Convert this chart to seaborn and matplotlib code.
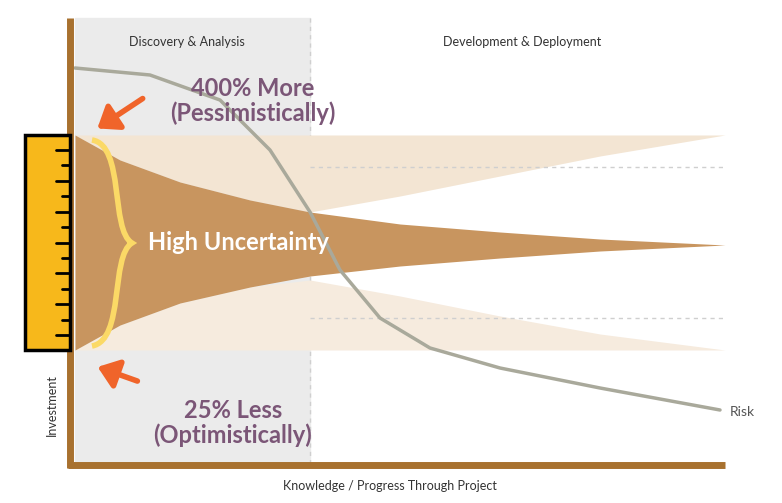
import matplotlib
matplotlib.use("Agg")
import matplotlib.pyplot as plt
import seaborn as sns
import numpy as np
from matplotlib.path import Path
from matplotlib.patches import PathPatch, Rectangle, FancyArrowPatch

sns.set_style("white")
plt.rcParams['font.family'] = ['Lato', 'DejaVu Sans']

# data (pixel-like coordinates of the illustration)
risk_x = [75, 150, 220, 270, 310, 340, 380, 430, 500, 600, 720]
risk_y = [68, 75, 100, 150, 212, 270, 318, 348, 368, 388, 410]
cone_x = [75, 120, 180, 250, 310, 400, 500, 600, 725]
cone_top = [135, 160, 182, 200, 212, 224, 232, 239, 245]
cone_bot = [350, 325, 303, 287, 276, 266, 258, 251, 245]
lobe_top_inner = [135, 160, 182, 200, 212, 196, 176, 156, 135]
lobe_bot_inner = [350, 325, 303, 287, 280, 296, 316, 334, 350]
phase_labels = ["Discovery & Analysis", "Development & Deployment"]

fig = plt.figure(figsize=(7.82, 5.03), dpi=100)
ax = fig.add_axes([0, 0, 1, 1])
ax.set_xlim(0, 782); ax.set_ylim(503, 0); ax.axis('off')

ax.add_patch(Rectangle((75, 18), 235, 446, color='#ebebeb', zorder=0))
ax.plot([310, 310], [18, 462], ls=(0, (3, 3)), color='#cfcfcf', lw=1, zorder=1)

# light lobes
ax.fill_between(cone_x, [135]*len(cone_x), lobe_top_inner, color='#f3e5d3', lw=0, zorder=2)
ax.fill_between(cone_x, lobe_bot_inner, [350]*len(cone_x), color='#f6ebde', lw=0, zorder=2)
# dark cone
ax.fill_between(cone_x, cone_top, cone_bot, color='#c8955f', lw=0, zorder=3)
for yy in (167, 318):
    ax.plot([310, 725], [yy, yy], ls=(0, (3, 3)), color='#cfcfcf', lw=1, zorder=2.5)

# risk curve
sns.lineplot(x=risk_x, y=risk_y, ax=ax, color='#a9a99b', lw=2.5, zorder=4, sort=False)
ax.text(730, 412, "Risk", fontsize=10, color='#555555', va='center')

# axes spines
ax.plot([70, 70], [18, 468], color='#a8712f', lw=5, solid_capstyle='butt', zorder=5)
ax.plot([68, 725], [465, 465], color='#a8712f', lw=5, solid_capstyle='butt', zorder=5)

# ruler
ax.add_patch(Rectangle((25, 135), 45, 215, facecolor='#f7b81b', edgecolor='black', lw=2.5, zorder=6))
for i, yy in enumerate(np.linspace(150, 335, 13)):
    L = 14 if i % 2 == 0 else 8
    ax.plot([70 - L, 70], [yy, yy], color='black', lw=2, zorder=7)

# brace
verts = [(92, 140), (125, 145), (110, 230), (132, 243),
         (110, 256), (125, 340), (92, 346)]
codes = [Path.MOVETO, Path.CURVE4, Path.CURVE4, Path.CURVE4, Path.CURVE4, Path.CURVE4, Path.CURVE4]
ax.add_patch(PathPatch(Path(verts, codes), fill=False, edgecolor='#fbd966', lw=4, zorder=7))

ax.text(148, 243, "High Uncertainty", fontsize=17, fontweight='bold', color='white', va='center', zorder=8)
ax.text(253, 101, "400% More\n(Pessimistically)", fontsize=17, fontweight='bold', color='#7b5677',
        ha='center', va='center', linespacing=1.05, zorder=8)
ax.text(233, 423, "25% Less\n(Optimistically)", fontsize=17, fontweight='bold', color='#7b5677',
        ha='center', va='center', linespacing=1.05, zorder=8)

for s, e in [((145, 97), (95, 130)), ((140, 382), (95, 366))]:
    ax.add_patch(FancyArrowPatch(s, e, arrowstyle='-|>,head_length=8,head_width=6',
                                 color='#f0642a', lw=4, zorder=8, mutation_scale=1.5))

ax.text(187, 42, phase_labels[0], fontsize=9, color='#333333', ha='center', va='center')
ax.text(522, 42, phase_labels[1], fontsize=9, color='#333333', ha='center', va='center')
ax.text(52, 405, "Investment", fontsize=9, color='#333333', rotation=90, ha='center', va='center')
ax.text(390, 486, "Knowledge / Progress Through Project", fontsize=9, color='#333333', ha='center', va='center')

fig.savefig("out.png", dpi=100, facecolor='white')
